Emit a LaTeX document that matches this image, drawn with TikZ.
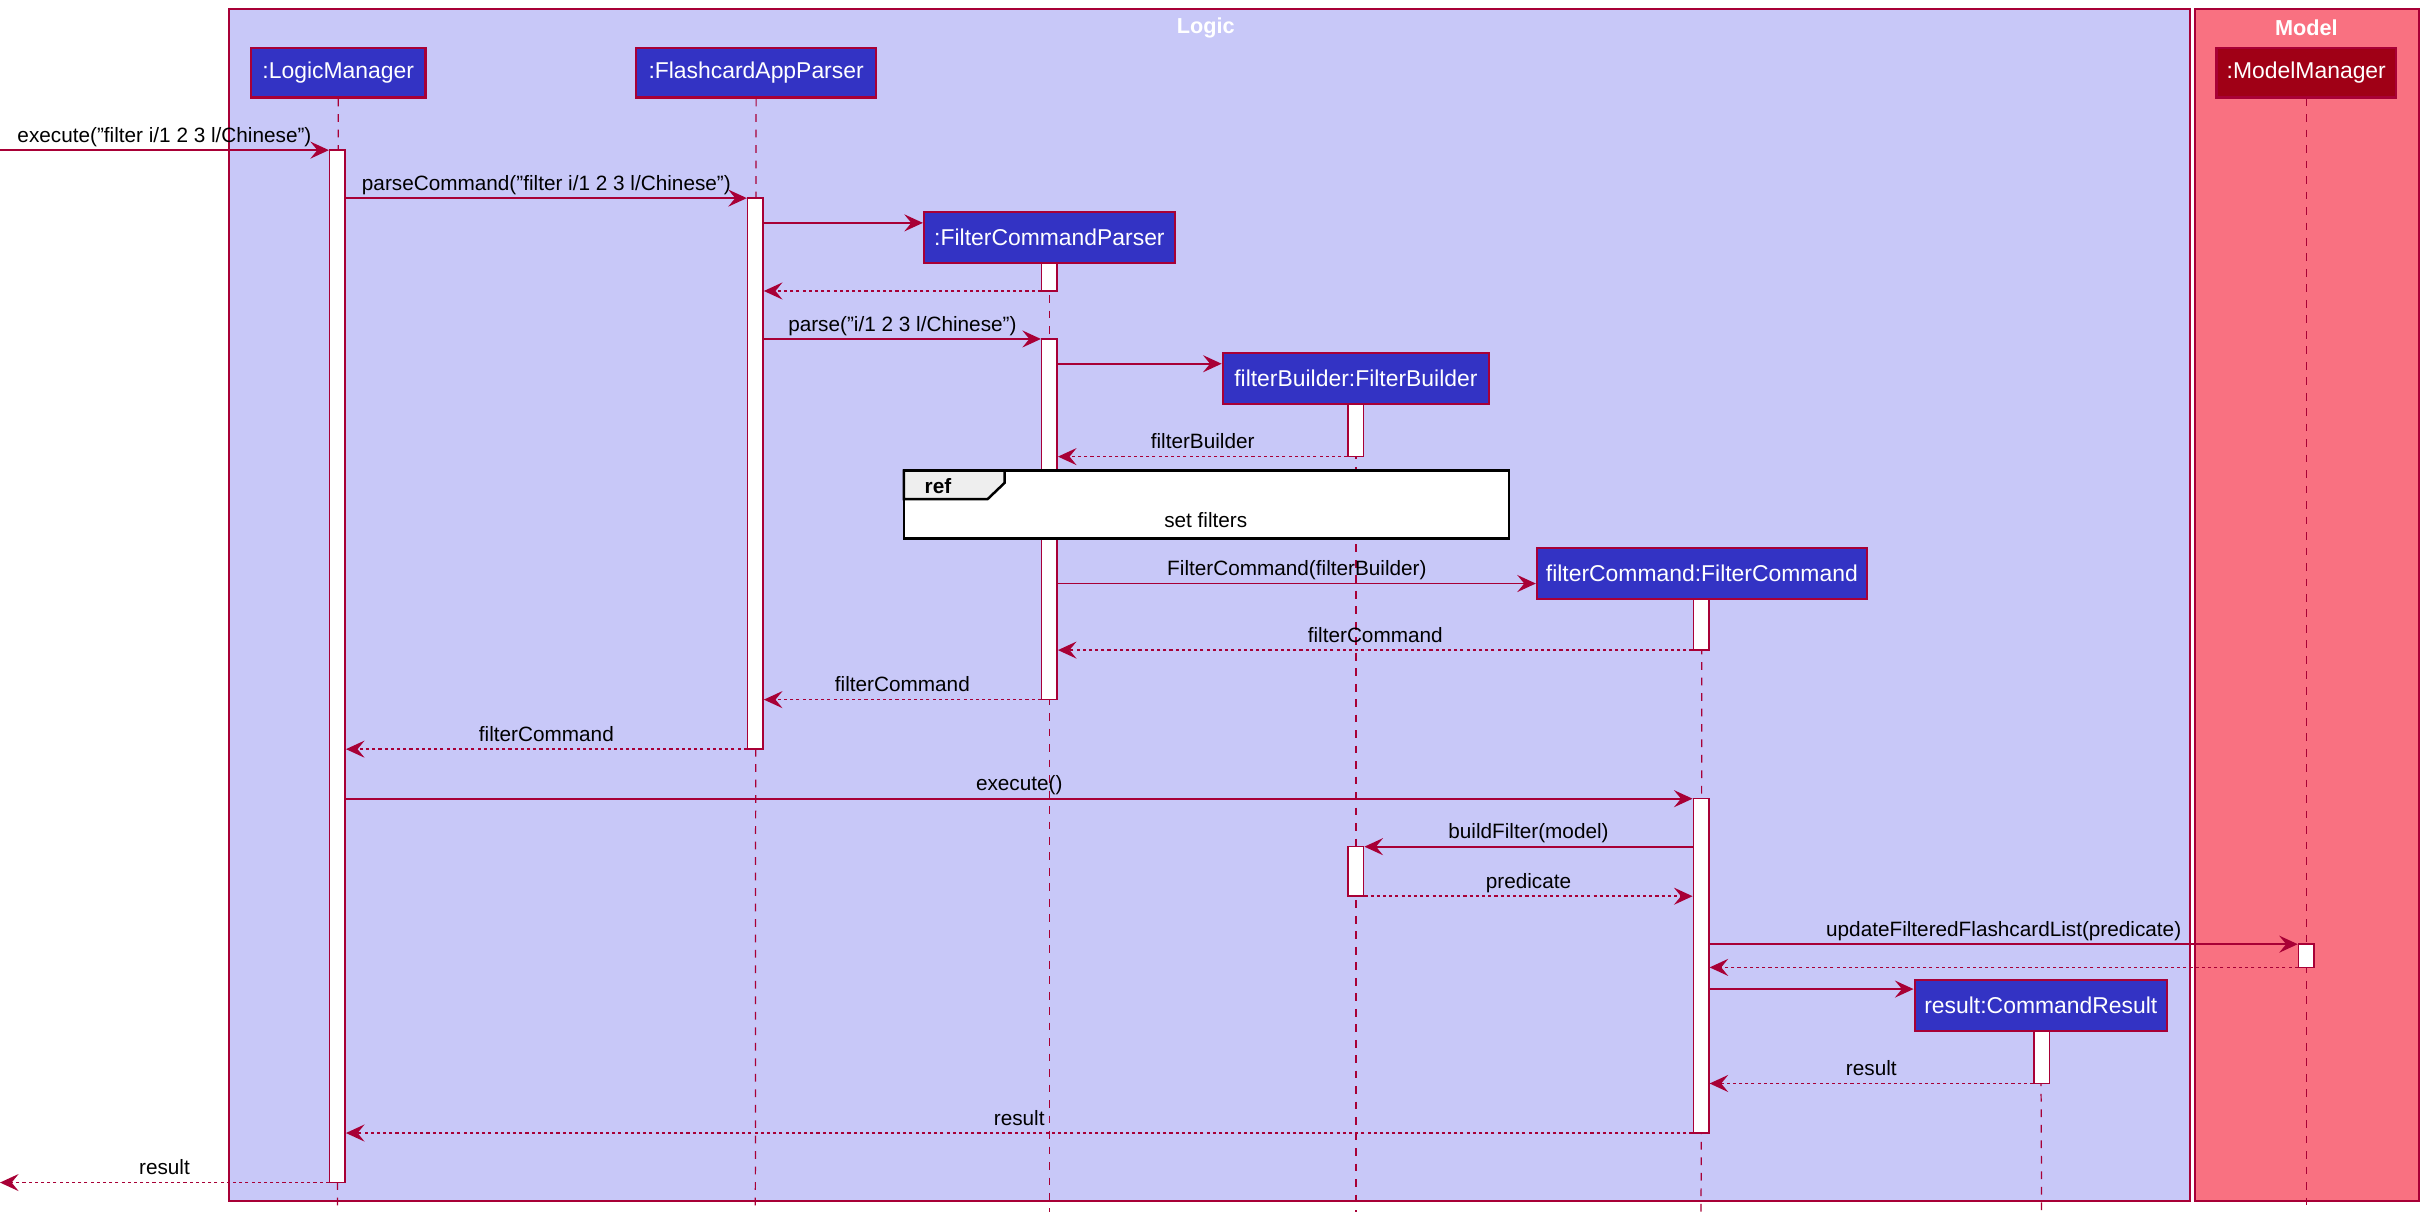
\documentclass[tikz,border=0pt]{standalone}
\usepackage{fontspec}
\setmainfont{Liberation Sans}
\usetikzlibrary{arrows.meta,calc}
\definecolor{crim}{HTML}{A80036}
\definecolor{logicbg}{HTML}{C8C8F8}
\definecolor{modelbg}{HTML}{F97181}
\definecolor{partbg}{HTML}{3333C4}
\definecolor{modelpart}{HTML}{A00016}
\definecolor{refgray}{HTML}{EEEEEE}
\newcommand{\dq}{\symbol{34}}
\begin{document}
\begin{tikzpicture}[x=1pt,y=-1pt,
  frame/.style={draw=crim, line width=1.2pt},
  part/.style={draw=crim, line width=1.5pt, fill=partbg, text=white,
    font=\fontsize{14.8}{16}\selectfont, minimum height=32pt, inner sep=0pt},
  lifeline/.style={draw=crim, line width=0.8pt, dash pattern=on 5pt off 5pt},
  actbox/.style={draw=crim, fill=white, line width=1pt, minimum width=10pt, inner sep=0pt},
  msg/.style={draw=crim, line width=1.1pt, -{Stealth[length=12pt,width=11pt,inset=4.5pt]}},
  ret/.style={msg, dash pattern=on 2pt off 2pt},
  lbl/.style={font=\fontsize{13.4}{15}\selectfont, text=black, anchor=base, yshift=5pt, inner sep=0pt},
  ttl/.style={font=\bfseries\fontsize{14}{16}\selectfont, text=white, inner sep=0pt}
]
\useasboundingbox (0,0) rectangle (1568,789);
\fill[white] (0,0) rectangle (1568,789);

% boxes (groups)
\node[frame, fill=logicbg, minimum width=1267pt, minimum height=770pt, inner sep=0pt] (logic) at (781.5,391) {};
\node[frame, fill=modelbg, minimum width=145pt, minimum height=770pt, inner sep=0pt] (model) at (1490.5,391) {};
\node[ttl] (logicT) at (779,18) {Logic};
\node[ttl] (modelT) at (1490,18) {Model};

% participants
\node[part, minimum width=113pt] (lm) at (218.5,47) {:LogicManager};
\node[part, minimum width=155pt] (fap) at (488.5,47) {:FlashcardAppParser};
\node[part, minimum width=162pt, minimum height=33pt] (fcp) at (678,153.5) {:FilterCommandParser};
\node[part, minimum width=172pt, minimum height=33pt] (fb) at (876,244.5) {filterBuilder:FilterBuilder};
\node[part, minimum width=213pt, minimum height=33pt] (fc) at (1099.5,370.5) {filterCommand:FilterCommand};
\node[part, minimum width=163pt, minimum height=33pt] (cr) at (1318.5,649.5) {result:CommandResult};
\node[part, fill=modelpart, minimum width=116pt] (mm) at (1490,47) {:ModelManager};

% lifeline ends
\coordinate (lmE) at (218,783);
\coordinate (fapE) at (488,783);
\coordinate (fcpE) at (678,783);
\coordinate (fbE) at (876,783);
\coordinate (fcE) at (1099,783);
\coordinate (crE) at (1319,783);
\coordinate (mmE) at (1490,783);

\draw[lifeline] (lm.south) -- (lmE);
\draw[lifeline] (fap.south) -- (fapE);
\draw[lifeline] (fcp.south) -- (fcpE);
\draw[lifeline] (fb.south) -- (fbE);
\draw[lifeline] (fc.south) -- (fcE);
\draw[lifeline] (cr.south) -- (crE);
\draw[lifeline] (mm.south) -- (mmE);

% redraw participant boxes over lifelines
\node[part, minimum width=113pt] at (218.5,47) {:LogicManager};
\node[part, minimum width=155pt] at (488.5,47) {:FlashcardAppParser};
\node[part, fill=modelpart, minimum width=116pt] at (1490,47) {:ModelManager};

% activations
\node[actbox, minimum height=667pt] (lmA) at (218,430.5) {};
\node[actbox, minimum height=356pt] (fapA) at (488,306) {};
\node[actbox, minimum height=18pt] (fcpA1) at (678,179) {};
\node[actbox, minimum height=233pt] (fcpA2) at (678,335.5) {};
\node[actbox, minimum height=34pt] (fbA1) at (876,278) {};
\node[actbox, minimum height=32pt] (fbA2) at (876,563) {};
\node[actbox, minimum height=33pt] (fcA1) at (1099,403.5) {};
\node[actbox, minimum height=216pt] (fcA2) at (1099,624) {};
\node[actbox, minimum height=15pt] (mmA) at (1490,617.5) {};
\node[actbox, minimum height=34pt] (crA) at (1319,683) {};

% redraw created participants on top
\node[part, minimum width=162pt, minimum height=33pt] at (678,153.5) {:FilterCommandParser};
\node[part, minimum width=172pt, minimum height=33pt] at (876,244.5) {filterBuilder:FilterBuilder};
\node[part, minimum width=213pt, minimum height=33pt] at (1099.5,370.5) {filterCommand:FilterCommand};
\node[part, minimum width=163pt, minimum height=33pt] at (1318.5,649.5) {result:CommandResult};

% ref frame
\node[draw=black, fill=white, line width=1.6pt, minimum width=391pt, minimum height=44pt, inner sep=0pt] (ref) at (779.5,326) {};
\filldraw[draw=black, fill=refgray, line width=1.6pt] (584,304) -- (649,304) -- (649,312) -- (638,322.5) -- (584,322.5) -- cycle;
\node[font=\bfseries\fontsize{13.4}{15}\selectfont, anchor=base, inner sep=0pt] (refT) at (606,319) {ref};
\node[font=\fontsize{13.4}{15}\selectfont, anchor=base, inner sep=0pt] (refL) at (779,340.5) {set filters};

% external endpoints
\coordinate (inL) at (0,97);
\coordinate (outL) at (0,764);

% messages
\draw[msg] (inL) -- (lmA.west |- inL) node[midway, lbl] {execute(\dq filter i/1 2 3 l/Chinese\dq)};
\draw[msg] (lmA.east |- 0,128) -- (fapA.west |- 0,128) node[midway, lbl] {parseCommand(\dq filter i/1 2 3 l/Chinese\dq)};
\draw[msg] (fapA.east |- 0,144) -- (fcp.west |- 0,144);
\draw[ret] (fcpA1.west |- 0,188) -- (fapA.east |- 0,188);
\draw[msg] (fapA.east |- 0,219) -- (fcpA2.west |- 0,219) node[midway, lbl] {parse(\dq i/1 2 3 l/Chinese\dq)};
\draw[msg] (fcpA2.east |- 0,235) -- (fb.west |- 0,235);
\draw[ret] (fbA1.west |- 0,295) -- (fcpA2.east |- 0,295) node[midway, lbl] {filterBuilder};
\draw[msg] (fcpA2.east |- 0,377) -- (fc.west |- 0,377) node[midway, lbl] {FilterCommand(filterBuilder)};
\draw[ret] (fcA1.west |- 0,420) -- (fcpA2.east |- 0,420) node[midway, lbl] {filterCommand};
\draw[ret] (fcpA2.west |- 0,452) -- (fapA.east |- 0,452) node[midway, lbl] {filterCommand};
\draw[ret] (fapA.west |- 0,484) -- (lmA.east |- 0,484) node[midway, lbl] {filterCommand};
\draw[msg] (lmA.east |- 0,516) -- (fcA2.west |- 0,516) node[midway, lbl] {execute()};
\draw[msg] (fcA2.west |- 0,547) -- (fbA2.east |- 0,547) node[midway, lbl] {buildFilter(model)};
\draw[ret] (fbA2.east |- 0,579) -- (fcA2.west |- 0,579) node[midway, lbl] {predicate};
\draw[msg] (fcA2.east |- 0,610) -- (mmA.west |- 0,610) node[midway, lbl] {updateFilteredFlashcardList(predicate)};
\draw[ret] (mmA.west |- 0,625) -- (fcA2.east |- 0,625);
\draw[msg] (fcA2.east |- 0,639) -- (cr.west |- 0,639);
\draw[ret] (crA.west |- 0,700) -- (fcA2.east |- 0,700) node[midway, lbl] {result};
\draw[ret] (fcA2.west |- 0,732) -- (lmA.east |- 0,732) node[midway, lbl] {result};
\draw[ret] (lmA.west |- outL) -- (outL) node[midway, lbl] {result};
\end{tikzpicture}
\end{document}
